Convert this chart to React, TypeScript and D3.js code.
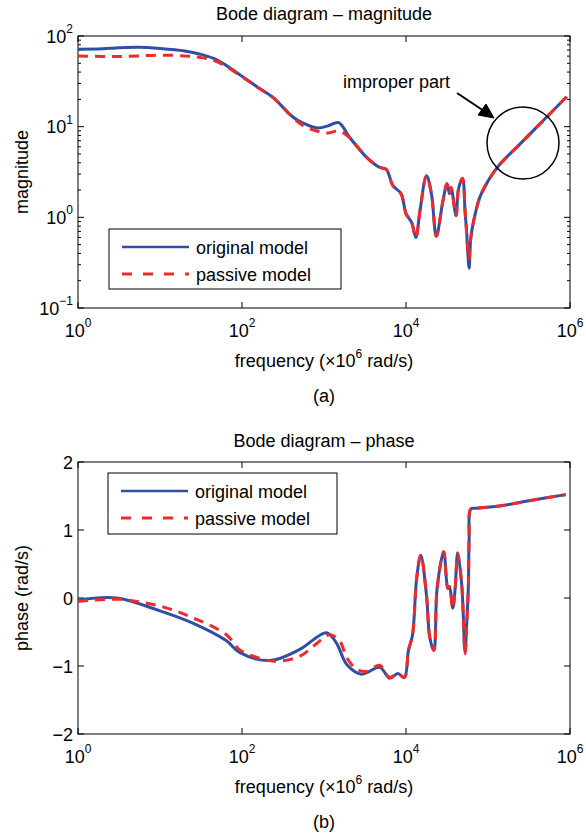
import React from "react";
import * as d3 from "d3";

// magnitude curves (frequency in x10^6 rad/s)
const magFreq = [1, 2, 3.16, 5.4, 10, 20, 31, 50, 93, 158, 240, 417, 562, 832, 1120, 1510, 2040, 3310, 4790, 5750, 6920, 8710, 10000, 11750, 13180, 14790, 17780, 20420, 23440, 28180, 31620, 33880, 35480, 40740, 43650, 48980, 52480, 54950, 56230, 58880, 61660, 69180, 79430, 104700, 138000, 239900, 512900, 912000];
const magOriginal = [71.6, 72.4, 74.1, 75, 72.8, 68.4, 63, 54.3, 37.7, 26.9, 20.9, 12.8, 10.9, 9.66, 10.2, 11.1, 7.67, 4.59, 3.55, 3.39, 2.24, 1.82, 1.1, 0.87, 0.6, 1.17, 2.88, 1.82, 0.62, 1.51, 2.34, 1.82, 2.14, 1.05, 2.04, 2.69, 1.17, 0.68, 0.46, 0.275, 0.59, 1.05, 1.66, 2.69, 3.8, 6.3, 12.6, 21.4];
const magPassive = [60.3, 59.5, 59.5, 60.3, 61.5, 60.3, 58, 52, 37, 26.9, 20.9, 12.6, 10.2, 8.9, 8.5, 9.0, 7.6, 4.59, 3.55, 3.39, 2.24, 1.82, 1.1, 0.87, 0.6, 1.17, 2.88, 1.82, 0.62, 1.51, 2.34, 1.82, 2.14, 1.05, 2.04, 2.69, 1.17, 0.68, 0.5, 0.35, 0.59, 1.05, 1.66, 2.69, 3.8, 6.3, 12.6, 21.4];

// phase curves
const phaseFreqOriginal = [1, 2.95, 10, 25.1, 64.6, 93.3, 219, 501, 1072, 1413, 1905, 2884, 4786, 6310, 7943, 9550, 10720, 12020, 13490, 15140, 17780, 19500, 21880, 23990, 28840, 32360, 33880, 37150, 39810, 42660, 47860, 52480, 54950, 57540, 58880, 61660, 72440, 151400, 316200, 891300];
const phaseOriginal = [-0.03, 0.0, -0.19, -0.37, -0.63, -0.8, -0.92, -0.76, -0.51, -0.66, -0.98, -1.12, -1.02, -1.18, -1.11, -1.17, -0.77, -0.54, 0.29, 0.63, 0.04, -0.58, -0.77, 0.15, 0.68, 0.14, 0.17, -0.15, 0.15, 0.66, 0.19, -0.8, -0.39, 0.15, 0.88, 1.31, 1.32, 1.36, 1.43, 1.52];
const phaseFreqPassive = [1, 3.16, 10, 25.1, 64.6, 93.3, 158, 251, 501, 794, 1175, 1549, 1905, 2512, 3311, 4786, 6310, 7943, 9550, 10720, 12020, 13490, 15140, 17780, 19500, 21880, 23990, 28840, 32360, 33880, 37150, 39810, 42660, 47860, 52480, 54950, 57540, 58880, 61660, 72440, 151400, 316200, 891300];
const phasePassive = [-0.05, -0.02, -0.12, -0.29, -0.54, -0.76, -0.88, -0.93, -0.86, -0.68, -0.54, -0.63, -0.88, -1.05, -1.08, -0.99, -1.17, -1.11, -1.17, -0.77, -0.54, 0.29, 0.63, 0.04, -0.58, -0.77, 0.15, 0.68, 0.14, 0.17, -0.15, 0.15, 0.66, 0.19, -0.82, -0.39, 0.15, 0.88, 1.31, 1.32, 1.36, 1.43, 1.52];

const xTickExp = [0, 2, 4, 6];
const magTickExp = [-1, 0, 1, 2];
const phaseTicks = [-2, -1, 0, 1, 2];
const legendLabels = ["original model", "passive model"];

const FONT = '"Liberation Sans", Arial, Helvetica, sans-serif';
const BLUE = "#2f4fa6";
const RED = "#ee2b2b";
const L = 78;
const R = 570;

const sup = (e: number) => (e < 0 ? "\u2212" + Math.abs(e) : String(e));

function Frame({ top, bottom }: { top: number; bottom: number }) {
  const x = d3.scaleLog().domain([1, 1e6]).range([L, R]);
  return (
    <g>
      <rect x={L} y={top} width={R - L} height={bottom - top} fill="none" stroke="#000" strokeWidth={1} />
      {xTickExp.map((e) => (
        <g key={e}>
          <line x1={x(10 ** e)} x2={x(10 ** e)} y1={bottom} y2={bottom - 6} stroke="#000" />
          <line x1={x(10 ** e)} x2={x(10 ** e)} y1={top} y2={top + 6} stroke="#000" />
          <text x={x(10 ** e)} y={bottom + 29} textAnchor="middle" fontSize={18}>
            <tspan>10</tspan>
            <tspan dy={-10} fontSize={12}>{sup(e)}</tspan>
          </text>
        </g>
      ))}
      <text x={(L + R) / 2} y={bottom + 59} textAnchor="middle" fontSize={18}>
        <tspan>frequency (×10</tspan>
        <tspan dy={-9} fontSize={12}>6</tspan>
        <tspan dy={9}> rad/s)</tspan>
      </text>
    </g>
  );
}

function Curve({ xs, ys, x, y, dashed }: any) {
  const line = d3
    .line<number>()
    .x((d, i) => x(xs[i]))
    .y((d) => y(d))
    .curve(d3.curveCatmullRom.alpha(0.5));
  return (
    <path
      d={line(ys) || ""}
      fill="none"
      stroke={dashed ? RED : BLUE}
      strokeWidth={3}
      strokeDasharray={dashed ? "10,7" : undefined}
    />
  );
}

function Legend({ x0, y0, w, h }: { x0: number; y0: number; w: number; h: number }) {
  return (
    <g>
      <rect x={x0} y={y0} width={w} height={h} fill="#fff" stroke="#000" strokeWidth={1} />
      {legendLabels.map((lab, i) => {
        const cy = y0 + 18 + i * 27;
        return (
          <g key={lab}>
            <line
              x1={x0 + 13}
              x2={x0 + 80}
              y1={cy}
              y2={cy}
              stroke={i === 0 ? BLUE : RED}
              strokeWidth={i === 0 ? 2.5 : 3}
              strokeDasharray={i === 0 ? undefined : "10,11"}
            />
            <text x={x0 + 87} y={cy + 6.5} fontSize={18}>{lab}</text>
          </g>
        );
      })}
    </g>
  );
}

export default function App() {
  const x = d3.scaleLog().domain([1, 1e6]).range([L, R]);

  // panel (a)
  const aTop = 36, aBot = 308;
  const yMag = d3.scaleLog().domain([0.1, 100]).range([aBot, aTop]);
  const minor: number[] = [];
  magTickExp.slice(0, 3).forEach((e) => {
    for (let k = 2; k <= 9; k++) minor.push(k * 10 ** e);
  });

  // panel (b)
  const bTop = 462, bBot = 734;
  const yPh = d3.scaleLinear().domain([-2, 2]).range([bBot, bTop]);

  return (
    <svg
      width={586}
      height={840}
      style={{ position: "absolute", left: 0, top: 0, background: "#fff" }}
      fontFamily={FONT}
    >
      {/* (a) magnitude */}
      <text x={(L + R) / 2} y={aTop - 16} textAnchor="middle" fontSize={18}>Bode diagram – magnitude</text>
      <text transform={`translate(28,${(aTop + aBot) / 2}) rotate(-90)`} textAnchor="middle" fontSize={18}>magnitude</text>
      <Frame top={aTop} bottom={aBot} />
      {magTickExp.map((e) => (
        <g key={e}>
          <line x1={L} x2={L + 6} y1={yMag(10 ** e)} y2={yMag(10 ** e)} stroke="#000" />
          <line x1={R} x2={R - 6} y1={yMag(10 ** e)} y2={yMag(10 ** e)} stroke="#000" />
          <text x={73} y={yMag(10 ** e) + 6.5} textAnchor="end" fontSize={18}>
            <tspan>10</tspan>
            <tspan dy={-9.5} fontSize={12}>{sup(e)}</tspan>
          </text>
        </g>
      ))}
      {minor.map((v) => (
        <g key={v}>
          <line x1={L} x2={L + 3} y1={yMag(v)} y2={yMag(v)} stroke="#000" />
          <line x1={R} x2={R - 3} y1={yMag(v)} y2={yMag(v)} stroke="#000" />
        </g>
      ))}
      <Curve xs={magFreq} ys={magOriginal} x={x} y={yMag} />
      <Curve xs={magFreq} ys={magPassive} x={x} y={yMag} dashed />
      <Legend x0={109} y0={229} w={232} h={60} />
      <circle cx={523} cy={143} r={36} fill="none" stroke="#000" strokeWidth={1.5} />
      <line x1={457} y1={93} x2={484} y2={111} stroke="#000" strokeWidth={2} />
      <path d="M494,118 L478,115 L486,104 Z" fill="#000" stroke="#000" />
      <text x={343} y={88} fontSize={18}>improper part</text>
      <text x={(L + R) / 2} y={aBot + 94} textAnchor="middle" fontSize={18}>(a)</text>

      {/* (b) phase */}
      <text x={(L + R) / 2} y={bTop - 15} textAnchor="middle" fontSize={18}>Bode diagram – phase</text>
      <text transform={`translate(28,${(bTop + bBot) / 2}) rotate(-90)`} textAnchor="middle" fontSize={18}>phase (rad/s)</text>
      <Frame top={bTop} bottom={bBot} />
      {phaseTicks.map((t) => (
        <g key={t}>
          <line x1={L} x2={L + 6} y1={yPh(t)} y2={yPh(t)} stroke="#000" />
          <line x1={R} x2={R - 6} y1={yPh(t)} y2={yPh(t)} stroke="#000" />
          <text x={73} y={yPh(t) + 6.5} textAnchor="end" fontSize={18}>{sup(t)}</text>
        </g>
      ))}
      <Curve xs={phaseFreqOriginal} ys={phaseOriginal} x={x} y={yPh} />
      <Curve xs={phaseFreqPassive} ys={phasePassive} x={x} y={yPh} dashed />
      <Legend x0={108} y0={473} w={229} h={61} />
      <text x={(L + R) / 2} y={bBot + 94} textAnchor="middle" fontSize={18}>(b)</text>
    </svg>
  );
}
